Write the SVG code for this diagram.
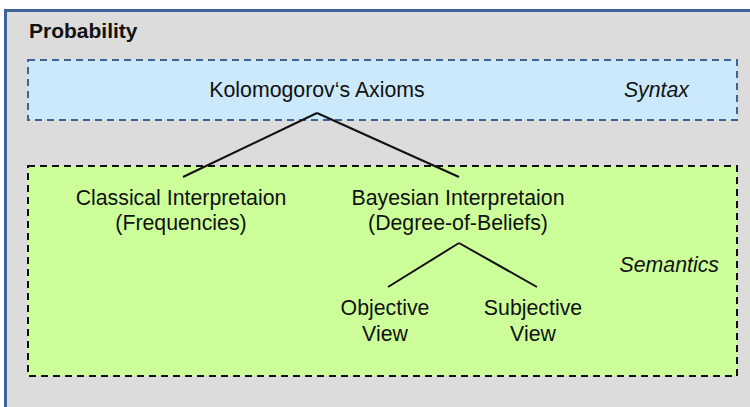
<svg xmlns="http://www.w3.org/2000/svg" width="750" height="407" viewBox="0 0 750 407">
<style>
.t{font-family:"Liberation Sans",Arial,sans-serif;font-size:21.3px;fill:#111;text-anchor:middle}
.i{font-style:italic;text-anchor:end}
.c{stroke:#111;stroke-width:2;fill:none}
</style>
<rect x="0" y="0" width="750" height="407" fill="#fff"/>
<g id="probability">
<rect x="5.5" y="10.5" width="760" height="420" fill="#dcdcdc" stroke="#3d6494" stroke-width="3"/>
<text x="29" y="38" style="font-family:'Liberation Sans',Arial,sans-serif;font-size:21px;font-weight:bold;fill:#111">Probability</text>
</g>
<g id="syntax">
<rect x="28" y="60" width="709" height="60" fill="#cce9fb" stroke="#3d6494" stroke-width="2" stroke-dasharray="7,5"/>
<text class="t i" x="689" y="97">Syntax</text>
</g>
<g id="semantics">
<rect x="28" y="166" width="709" height="210" fill="#ccff99" stroke="#111" stroke-width="2" stroke-dasharray="7,5"/>
<text class="t i" x="719" y="272">Semantics</text>
</g>
<g id="connectors">
<path class="c" d="M317 113 L183 177 M317 113 L459 177"/>
<path class="c" d="M459 243 L388 287 M459 243 L537 287"/>
</g>
<g id="axioms"><text class="t" x="317" y="97">Kolomogorov‘s Axioms</text></g>
<g id="classical"><text class="t" x="181" y="205">Classical Interpretaion</text><text class="t" x="181" y="230">(Frequencies)</text></g>
<g id="bayesian"><text class="t" x="458" y="205">Bayesian Interpretaion</text><text class="t" x="458" y="230">(Degree-of-Beliefs)</text></g>
<g id="objective"><text class="t" x="385" y="315">Objective</text><text class="t" x="385" y="341">View</text></g>
<g id="subjective"><text class="t" x="533" y="315">Subjective</text><text class="t" x="533" y="341">View</text></g>
</svg>
